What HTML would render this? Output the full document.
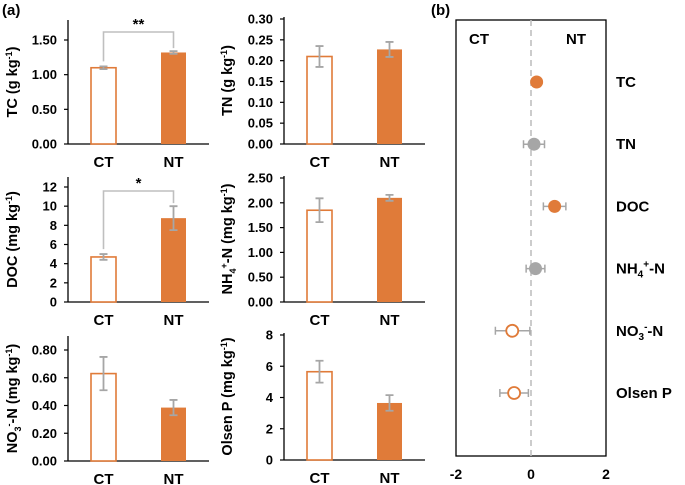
<!DOCTYPE html>
<html><head><meta charset="utf-8"><style>
body{margin:0;background:#fff;}
svg{display:block;font-family:"Liberation Sans",Arial,sans-serif;font-weight:bold;}
</style></head><body>
<svg id="fig" width="685" height="485" viewBox="0 0 685 485" xmlns="http://www.w3.org/2000/svg">
<text x="2" y="15" font-size="15">(a)</text>
<text x="431" y="15" font-size="15">(b)</text>
</svg>
<script>
const categories = ["CT", "NT"];
const tcValues = [1.10, 1.32], tcErr = [0.02, 0.02];
const tnValues = [0.21, 0.227], tnErr = [0.025, 0.018];
const docValues = [4.7, 8.75], docErr = [0.3, 1.25];
const nh4Values = [1.85, 2.1], nh4Err = [0.24, 0.06];
const no3Values = [0.63, 0.385], no3Err = [0.12, 0.055];
const olsenValues = [5.65, 3.65], olsenErr = [0.7, 0.5];
const tcTicks = ["0.00","0.50","1.00","1.50"];
const tnTicks = ["0.00","0.05","0.10","0.15","0.20","0.25","0.30"];
const docTicks = ["0","2","4","6","8","10","12"];
const nh4Ticks = ["0.00","0.50","1.00","1.50","2.00","2.50"];
const no3Ticks = ["0.00","0.20","0.40","0.60","0.80"];
const olsenTicks = ["0","2","4","6","8"];
const effectLabels = ["TC","TN","DOC","NH4+-N","NO3--N","Olsen P"];
const effectValues = [0.15, 0.08, 0.63, 0.12, -0.5, -0.45];
const effectLow = [0.15, -0.2, 0.33, -0.13, -0.95, -0.83];
const effectHigh = [0.15, 0.36, 0.93, 0.37, -0.03, -0.07];
const effectSig = [true, false, true, false, true, true];
const effectTicks = ["-2","0","2"];

const NS="http://www.w3.org/2000/svg";
const svg=document.getElementById('fig');
const ORANGE="#e07b39", GREY="#a6a6a6";
function mk(tag,attrs,parent){const e=document.createElementNS(NS,tag);for(const k in attrs)e.setAttribute(k,attrs[k]);(parent||svg).appendChild(e);return e;}

function barPanel(name,ax,y0,yMaxPx,maxV,axisTop,ticks,vals,errs,title,titleX,sig){
  const g=mk('g',{});
  
  
  const ys=v=>y0-(v/maxV)*(y0-yMaxPx);
  let l=mk('line',{x1:ax,y1:y0,x2:ax,y2:axisTop,stroke:"#000","stroke-width":1.3},g);
  
  
  l=mk('line',{x1:ax,y1:y0,x2:ax+141,y2:y0,stroke:"#000","stroke-width":1.3},g);
  
  
  ticks.forEach(t=>{
    const y=ys(parseFloat(t));
    mk('line',{x1:ax-4,y1:y,x2:ax,y2:y,stroke:"#000","stroke-width":1.2},g);
    const tx=mk('text',{x:ax-11,y:y+4.5,"font-size":13,"text-anchor":"end"},g);
    tx.textContent=t;
    
    
  });
  const offs=[23,93];
  categories.forEach((c,i)=>{
    const x=ax+offs[i], w=25, top=ys(vals[i]);
    const r=mk('rect',{x:x,y:top,width:w,height:y0-top,fill:i?ORANGE:"#fff",stroke:ORANGE,"stroke-width":i?0:1.6},g);
    
    
    const cx=x+w/2, e1=ys(vals[i]+errs[i]), e2=ys(vals[i]-errs[i]);
    const eb=mk('path',{d:`M${cx},${e1}V${e2}M${cx-4},${e1}H${cx+4}M${cx-4},${e2}H${cx+4}`,stroke:GREY,"stroke-width":1.8,fill:"none"},g);
    
    
    const ct=mk('text',{x:cx,y:y0+23,"font-size":15,"text-anchor":"middle"},g);
    ct.textContent=c;
    
    
  });
  const tt=mk('text',{x:0,y:0,"font-size":14.5,"text-anchor":"middle",transform:`translate(${titleX},${(y0+axisTop)/2}) rotate(-90)`},g);
  tt.innerHTML=title;
  
  
  if(sig){
    const c1=ax+23+12.5, c2=ax+93+12.5, by=sig.y;
    const br=mk('path',{d:`M${c1},${ys(vals[0]+errs[0])-5}V${by}H${c2}V${ys(vals[1]+errs[1])-3}`,stroke:"#bfbfbf","stroke-width":1.6,fill:"none"},g);
    
    
    const st=mk('text',{x:(c1+c2)/2,y:by-3,"font-size":15,"text-anchor":"middle"},g);
    st.textContent=sig.txt;
    
    
  }
}
const sup=(s)=>`<tspan dy="-5" font-size="9">${s}</tspan><tspan dy="5">`;
barPanel('tc',68,144,40,1.5,20,tcTicks,tcValues,tcErr,`TC (g kg${sup('-1')})</tspan>`,17,{y:32,txt:"**"});
barPanel('tn',284,144,19,0.30,17,tnTicks,tnValues,tnErr,`TN (g kg${sup('-1')})</tspan>`,232,null);
barPanel('doc',68,302,187,12,177,docTicks,docValues,docErr,`DOC (mg kg${sup('-1')})</tspan>`,17,{y:191,txt:"*"});
barPanel('nh4',284,302,178,2.5,176,nh4Ticks,nh4Values,nh4Err,`NH<tspan dy="4" font-size="9">4</tspan><tspan dy="-9" font-size="9">+</tspan><tspan dy="5">-N (mg kg</tspan>${sup('-1')})</tspan>`,232,null);
barPanel('no3',68,461,350,0.8,336,no3Ticks,no3Values,no3Err,`NO<tspan dy="4" font-size="9">3</tspan><tspan dy="-9" font-size="9">-</tspan><tspan dy="5">-N (mg kg</tspan>${sup('-1')})</tspan>`,17,null);
barPanel('olsen',284,460,335,8,333,olsenTicks,olsenValues,olsenErr,`Olsen P (mg kg${sup('-1')})</tspan>`,232,null);

// panel b
const bx0=456,bx1=606,by0=20,by1=456;
const xs=v=>bx0+(v+2)/4*(bx1-bx0);
const rowY=i=>82+i*62.2;
let el=mk('rect',{x:bx0,y:by0,width:bx1-bx0,height:by1-by0,fill:"none",stroke:"#000","stroke-width":1.3});


el=mk('line',{x1:xs(0),y1:by0,x2:xs(0),y2:by1,stroke:"#bfbfbf","stroke-width":1.6,"stroke-dasharray":"6,4"});


effectTicks.forEach(t=>{
  const tx=mk('text',{x:xs(parseFloat(t)),y:479,"font-size":14,"text-anchor":"middle"});
  tx.textContent=t;
  
  
});
el=mk('text',{x:469,y:44,"font-size":15}); el.textContent="CT";


el=mk('text',{x:566,y:44,"font-size":15}); el.textContent="NT";


const labelHTML=["TC","TN","DOC",`NH<tspan dy="4" font-size="10">4</tspan><tspan dy="-10" font-size="10">+</tspan><tspan dy="6">-N</tspan>`,`NO<tspan dy="4" font-size="10">3</tspan><tspan dy="-10" font-size="10">-</tspan><tspan dy="6">-N</tspan>`,"Olsen P"];
effectLabels.forEach((lab,i)=>{
  const y=rowY(i);
  const tx=mk('text',{x:616,y:y+5,"font-size":15});
  tx.innerHTML=labelHTML[i];
  
  
  const v=effectValues[i], pos=v>0;
  const col=effectSig[i]?ORANGE:GREY;
  if(effectHigh[i]>effectLow[i]){
    const a=xs(effectLow[i]), b=xs(effectHigh[i]);
    const eb=mk('path',{d:`M${a},${y}H${b}M${a},${y-4}V${y+4}M${b},${y-4}V${y+4}`,stroke:GREY,"stroke-width":1.5,fill:"none"});
    
    
  }
  const c=mk('circle',{cx:xs(v),cy:y,r:pos?6.5:6,fill:(pos||!effectSig[i])?col:"#fff",stroke:col,"stroke-width":pos?0:1.8});
  
  
});
</script>
</body></html>
